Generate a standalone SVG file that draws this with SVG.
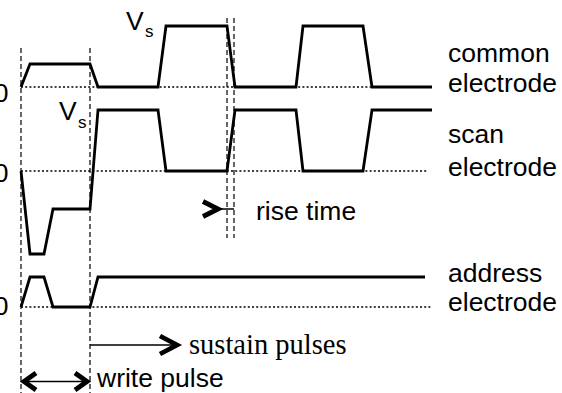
<svg xmlns="http://www.w3.org/2000/svg" width="562" height="393" viewBox="0 0 562 393">
<style>
.wave{fill:none;stroke:#000;stroke-width:2.8;stroke-linejoin:miter}
.dot{fill:none;stroke:#000;stroke-width:1.6;stroke-dasharray:2 2.2}
.dash{fill:none;stroke:#000;stroke-width:1.2;stroke-dasharray:5 3}
.thin{fill:none;stroke:#000;stroke-width:1.5}
.chev{fill:none;stroke:#000;stroke-width:4.8;stroke-linejoin:miter;stroke-miterlimit:10}
.lbl{font-family:"Liberation Sans",Arial,sans-serif;font-size:26.5px;fill:#000}
.sub{font-family:"Liberation Sans",Arial,sans-serif;font-size:17px;fill:#000}
.ser{font-family:"Liberation Serif","Times New Roman",serif;font-size:28.5px;fill:#000}
</style>
<rect width="562" height="393" fill="#fff"/>
<g id="guides">
<line class="dash" x1="21" y1="48" x2="21" y2="393"/>
<line class="dash" x1="90" y1="48" x2="90" y2="393"/>
<line class="dash" x1="227" y1="18" x2="227" y2="238"/>
<line class="dash" x1="234" y1="18" x2="234" y2="238"/>
<line class="dot" x1="21" y1="87" x2="432" y2="87"/>
<line class="dot" x1="21" y1="171" x2="428" y2="171"/>
<line class="dot" x1="21" y1="307" x2="432" y2="307"/>
</g>
<g id="common">
<polyline class="wave" points="21,87 30,64 90,64 98,87 158,87 166,26 227,26 235,87 296,87 303,26 363,26 372,87 432,87"/>
<text class="lbl" x="8.5" y="102" text-anchor="end">0</text>
<text class="lbl" x="126" y="30">V</text><text class="sub" x="145" y="37">s</text>
<text class="lbl" x="448" y="62">common</text>
<text class="lbl" x="448" y="92">electrode</text>
</g>
<g id="scan">
<polyline class="wave" points="21,171 30,254 44,254 53,209 90,209 98,110 158,110 166,171 227,171 235,110 296,110 303,171 363,171 372,110 432,110"/>
<text class="lbl" x="8.5" y="182" text-anchor="end">0</text>
<text class="lbl" x="59" y="120">V</text><text class="sub" x="78" y="128">s</text>
<text class="lbl" x="448" y="143">scan</text>
<text class="lbl" x="448" y="176">electrode</text>
</g>
<g id="address">
<polyline class="wave" points="21,307 30,277 44,277 53,307 90,307 98,277 425,277"/>
<text class="lbl" x="8.5" y="315" text-anchor="end">0</text>
<text class="lbl" x="448" y="282">address</text>
<text class="lbl" x="448" y="311">electrode</text>
</g>
<g id="connectors">
<polyline class="chev" points="203,201.5 218,209 203,216.5"/>
<line class="thin" x1="218" y1="209" x2="234" y2="209"/>
<line class="thin" x1="90" y1="345" x2="178" y2="345"/>
<polyline class="chev" points="160,336 177,345 160,354"/>
<line class="thin" x1="22" y1="381.5" x2="89" y2="381.5"/>
<polyline class="chev" points="36,373 24,381.5 36,390"/>
<polyline class="chev" points="75,373 87,381.5 75,390"/>
</g>
<g id="labels">
<text class="lbl" x="256" y="220">rise time</text>
<text class="ser" x="189" y="354">sustain pulses</text>
<text class="lbl" x="97" y="387">write pulse</text>
</g>
</svg>
